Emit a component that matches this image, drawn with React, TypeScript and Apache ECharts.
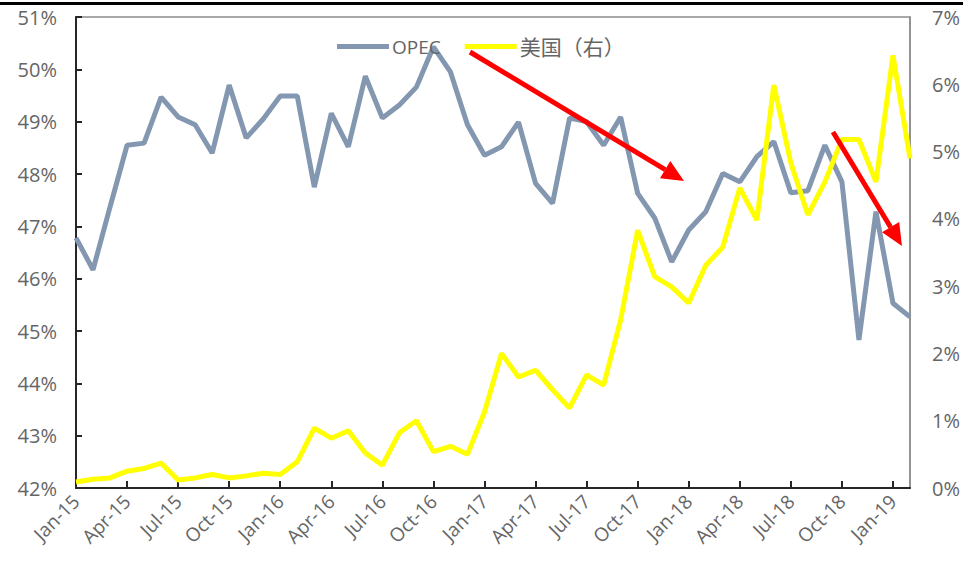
import React, { useEffect, useRef } from "react";
import * as echarts from "echarts";

const months = ["Jan", "Feb", "Mar", "Apr", "May", "Jun", "Jul", "Aug", "Sep", "Oct", "Nov", "Dec"];
const years = ["15", "16", "17", "18", "19"];
const categories: string[] = [];
for (const y of years) for (const m of months) categories.push(`${m}-${y}`);
const xLabels = categories.slice(0, 50);

const opecShare = [
  46.78, 46.17, 47.37, 48.55, 48.59, 49.47, 49.09, 48.94, 48.4, 49.7,
  48.69, 49.05, 49.49, 49.49, 47.75, 49.16, 48.52, 49.87, 49.07, 49.32,
  49.66, 50.43, 49.95, 48.94, 48.36, 48.52, 48.99, 47.82, 47.44, 49.07,
  49.0, 48.55, 49.09, 47.63, 47.16, 46.32, 46.93, 47.28, 48.01, 47.85,
  48.33, 48.62, 47.64, 47.68, 48.55, 47.85, 44.83, 47.28, 45.53, 45.27,
];

const usShare = [
  0.09, 0.13, 0.15, 0.25, 0.29, 0.37, 0.12, 0.15, 0.2, 0.15,
  0.18, 0.22, 0.2, 0.39, 0.89, 0.74, 0.85, 0.52, 0.34, 0.82,
  1.0, 0.54, 0.62, 0.5, 1.13, 2.0, 1.65, 1.75, 1.46, 1.19,
  1.68, 1.53, 2.5, 3.83, 3.14, 2.99, 2.75, 3.31, 3.58, 4.46,
  3.98, 5.99, 4.83, 4.06, 4.55, 5.18, 5.18, 4.55, 6.43, 4.9,
];

const seriesNames = ["OPEC", "美国（右）"];

const FONT = "'Open Sans', 'Noto Sans CJK SC', sans-serif";
const GREY = "#656565";

function arrowHead(tip: [number, number], from: [number, number], len: number, half: number) {
  const dx = tip[0] - from[0];
  const dy = tip[1] - from[1];
  const l = Math.sqrt(dx * dx + dy * dy);
  const ux = dx / l;
  const uy = dy / l;
  const bx = tip[0] - ux * len;
  const by = tip[1] - uy * len;
  return {
    base: [bx, by],
    points: [
      [tip[0], tip[1]],
      [bx - uy * half, by + ux * half],
      [bx + uy * half, by - ux * half],
    ],
  };
}

export default function App() {
  const ref = useRef<HTMLDivElement>(null);
  useEffect(() => {
    if (!ref.current) return;
    const chart = echarts.init(ref.current, null, { renderer: "svg" });
    const a1s: [number, number] = [470, 52];
    const a1t: [number, number] = [684, 181];
    const a2s: [number, number] = [833, 132];
    const a2t: [number, number] = [902, 246];
    const h1 = arrowHead(a1t, a1s, 22, 10);
    const h2 = arrowHead(a2t, a2s, 22, 10);
    chart.setOption({
      animation: false,
      backgroundColor: "#ffffff",
      textStyle: { fontFamily: FONT },
      grid: {
        left: 76,
        right: 53,
        top: 17,
        bottom: 80,
        show: true,
        borderColor: "#8c8c8c",
        borderWidth: 1.5,
        backgroundColor: "transparent",
      },
      legend: {
        left: 332,
        top: 31,
        itemWidth: 52,
        itemHeight: 5,
        itemGap: 24,
        formatter: (name: string) => (name === "OPEC" ? name : `{cn|${name}}`),
        textStyle: {
          color: GREY,
          fontSize: 19,
          fontFamily: FONT,
          padding: [0, 0, 0, -2],
          rich: { cn: { fontSize: 21, color: GREY, fontFamily: FONT } },
        },
        data: seriesNames.map((n) => ({ name: n, icon: "rect" })),
      },
      xAxis: {
        type: "category",
        data: xLabels,
        boundaryGap: false,
        axisLine: { lineStyle: { color: "#262626", width: 2 } },
        axisTick: { inside: true, interval: 2, length: 7, lineStyle: { color: "#262626", width: 2 } },
        axisLabel: {
          interval: 2,
          rotate: 45,
          color: GREY,
          fontSize: 19,
          fontFamily: FONT,
          margin: 10,
        },
        splitLine: { show: false },
      },
      yAxis: [
        {
          type: "value",
          min: 42,
          max: 51,
          interval: 1,
          axisLine: { show: true, lineStyle: { color: "#262626", width: 2 } },
          axisTick: { show: true, inside: true, length: 6, lineStyle: { color: "#262626", width: 2 } },
          axisLabel: { formatter: "{value}%", color: GREY, fontSize: 20, fontFamily: FONT, margin: 19 },
          splitLine: { show: false },
        },
        {
          type: "value",
          min: 0,
          max: 7,
          interval: 1,
          axisLine: { show: true, lineStyle: { color: "#8c8c8c", width: 1.5 } },
          axisTick: { show: false },
          axisLabel: { formatter: "{value}%", color: GREY, fontSize: 20, fontFamily: FONT, margin: 22 },
          splitLine: { show: false },
        },
      ],
      series: [
        {
          name: seriesNames[0],
          type: "line",
          data: opecShare,
          yAxisIndex: 0,
          symbol: "none",
          lineStyle: { color: "#8497B0", width: 5 },
          itemStyle: { color: "#8497B0" },
        },
        {
          name: seriesNames[1],
          type: "line",
          data: usShare,
          yAxisIndex: 1,
          symbol: "none",
          lineStyle: { color: "#FFFF00", width: 5 },
          itemStyle: { color: "#FFFF00" },
        },
      ],
      graphic: [
        { type: "rect", shape: { x: 0, y: 2, width: 963, height: 3 }, style: { fill: "#000" }, z: 100 },
        {
          type: "line",
          shape: { x1: a1s[0], y1: a1s[1], x2: h1.base[0], y2: h1.base[1] },
          style: { stroke: "#FF0000", lineWidth: 5 },
          z: 100,
        },
        { type: "polygon", shape: { points: h1.points }, style: { fill: "#FF0000" }, z: 100 },
        {
          type: "line",
          shape: { x1: a2s[0], y1: a2s[1], x2: h2.base[0], y2: h2.base[1] },
          style: { stroke: "#FF0000", lineWidth: 5 },
          z: 100,
        },
        { type: "polygon", shape: { points: h2.points }, style: { fill: "#FF0000" }, z: 100 },
      ],
    });
    return () => chart.dispose();
  }, []);
  return (
    <div
      ref={ref}
      style={{ position: "absolute", left: 0, top: 0, width: 963, height: 568 }}
    />
  );
}
